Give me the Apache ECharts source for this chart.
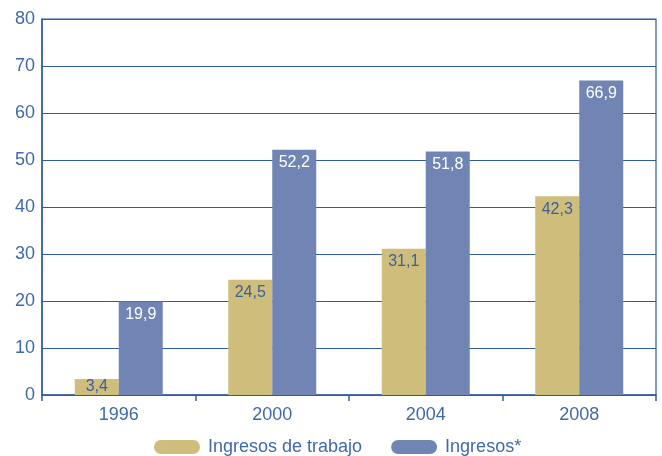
<!DOCTYPE html>
<html><head><meta charset="utf-8">
<script src="https://cdn.jsdelivr.net/npm/echarts@6/dist/echarts.min.js"></script>
<style>html,body{margin:0;padding:0;background:#fff}#c{width:662px;height:456px}</style>
</head><body><div id="c"></div>
<script>
var categories = ['1996', '2000', '2004', '2008'];
var trabajo = [3.4, 24.5, 31.1, 42.3];
var ingresos = [19.9, 52.2, 51.8, 66.9];
var seriesNames = ['Ingresos de trabajo', 'Ingresos*'];

var axisColor = '#2F5C9F';
var textColor = '#3F69AD';
var font = 'Liberation Sans, Arial, sans-serif';
var pill = 'path://M7,0 L39,0 A7,7 0 0 1 39,14 L7,14 A7,7 0 0 1 7,0 Z';
function fmt(p){ return String(p.value).replace('.', ','); }

var trabajoData = trabajo.map(function(v){
  return v < 8 ? {value: v, label: {position: 'inside'}} : v;
});

var chart = echarts.init(document.getElementById('c'), null, {renderer:'canvas'});
chart.setOption({
  animation: false,
  grid: {left: 42, right: 6, top: 19, bottom: 61, show: true, borderColor: axisColor, borderWidth: 1.2},
  legend: {
    top: 438, left: 154, padding: 0, itemWidth: 46, itemHeight: 15, itemGap: 29,
    icon: pill,
    textStyle: {color: textColor, fontSize: 18, fontFamily: font, padding: [0, 0, 0, 3]},
    data: seriesNames
  },
  xAxis: {
    type: 'category', data: categories,
    axisLine: {lineStyle: {color: axisColor, width: 1.5}},
    axisTick: {show: true, length: 6, lineStyle: {color: axisColor, width: 1.5}},
    axisLabel: {color: textColor, fontSize: 18, margin: 11, fontFamily: font}
  },
  yAxis: {
    type: 'value', min: 0, max: 80, interval: 10,
    axisLine: {show: true, lineStyle: {color: axisColor, width: 1.5}},
    axisTick: {show: false},
    splitLine: {lineStyle: {color: axisColor, width: 1.2}},
    axisLabel: {color: textColor, fontSize: 18, margin: 7, fontFamily: font}
  },
  series: [
    {name: seriesNames[0], type: 'bar', data: trabajoData, barWidth: 44, barGap: '0%',
     itemStyle: {color: '#CFBD7B'},
     label: {show: true, position: 'insideTop', distance: 5, formatter: fmt, color: '#3A5F9E', fontSize: 16, fontFamily: font}},
    {name: seriesNames[1], type: 'bar', data: ingresos, barWidth: 44,
     itemStyle: {color: '#7185B4'},
     label: {show: true, position: 'insideTop', distance: 5, formatter: fmt, color: '#ffffff', fontSize: 16, fontFamily: font}}
  ]
});
</script></body></html>
